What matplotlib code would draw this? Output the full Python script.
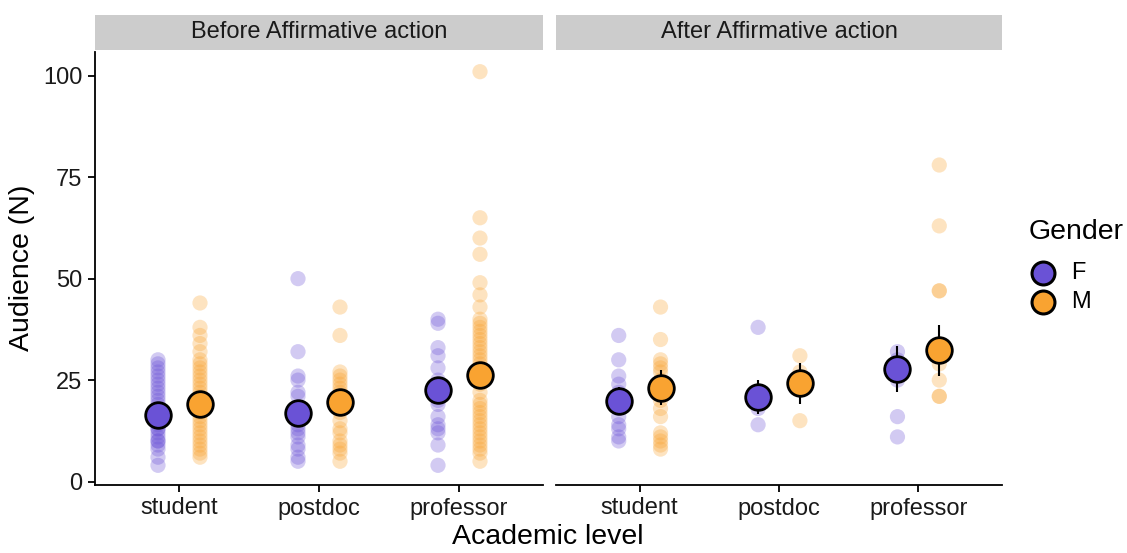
# Audiencia por nivel académico, antes y después de la acción afirmativa
import numpy as np
import matplotlib.pyplot as plt
from matplotlib.patches import Rectangle
from matplotlib.lines import Line2D

plt.rcParams['font.family'] = ['Liberation Sans', 'DejaVu Sans']

# Categorías
levels = ['student', 'postdoc', 'professor']
panels = ['Before Affirmative action', 'After Affirmative action']
genders = ['F', 'M']

# Datos individuales (antes)
before_student_F = [4, 6, 8, 9, 10, 10, 11, 12, 13, 13, 14, 15, 16, 16, 17, 18, 19, 20, 21, 22, 23, 24, 25, 26, 27, 28, 29, 30]
before_student_M = [6, 7, 8, 9, 10, 11, 12, 13, 14, 15, 16, 17, 18, 19, 20, 21, 22, 23, 24, 25, 26, 27, 28, 29, 30, 32, 34, 36, 38, 44]
before_postdoc_F = [5, 6, 8, 9, 11, 12, 13, 14, 16, 18, 21, 22, 25, 26, 32, 50]
before_postdoc_M = [5, 7, 8, 9, 10, 12, 13, 15, 17, 18, 19, 20, 21, 22, 23, 24, 25, 26, 27, 36, 43]
before_professor_F = [4, 9, 12, 13, 14, 16, 19, 20, 22, 25, 28, 31, 33, 39, 40]
before_professor_M = [5, 7, 8, 9, 10, 11, 12, 13, 14, 15, 16, 17, 18, 19, 20, 22, 24, 25, 26, 27, 28, 29, 30,
                      31, 32, 33, 34, 35, 36, 37, 38, 39, 40, 43, 46, 49, 56, 60, 65, 101]

# Datos individuales (después)
after_student_F = [10, 11, 13, 14, 16, 18, 20, 22, 24, 26, 30, 36]
after_student_M = [8, 9, 10, 11, 12, 16, 18, 20, 22, 25, 27, 28, 29, 30, 35, 43]
after_postdoc_F = [14, 18, 22, 38]
after_postdoc_M = [15, 27, 31]
after_professor_F = [11, 16, 25, 30, 32]
after_professor_M = [21, 21, 25, 29, 47, 47, 63, 78]

# Medias y errores estándar
before_mean_F = [16.3, 16.8, 22.5]
before_mean_M = [19.0, 19.7, 26.2]
after_mean_F = [19.9, 20.8, 27.7]
after_mean_M = [23.1, 24.2, 32.4]
before_se_F = [1.0, 2.5, 3.2]
before_se_M = [1.2, 2.0, 3.0]
after_se_F = [3.5, 4.2, 5.6]
after_se_M = [4.3, 5.0, 6.3]

colors = {'F': '#6A52D6', 'M': '#F9A331'}
dodge = {'F': -0.15, 'M': 0.15}

raw = [
    {'F': [before_student_F, before_postdoc_F, before_professor_F],
     'M': [before_student_M, before_postdoc_M, before_professor_M]},
    {'F': [after_student_F, after_postdoc_F, after_professor_F],
     'M': [after_student_M, after_postdoc_M, after_professor_M]},
]
means = [{'F': before_mean_F, 'M': before_mean_M}, {'F': after_mean_F, 'M': after_mean_M}]
ses = [{'F': before_se_F, 'M': before_se_M}, {'F': after_se_F, 'M': after_se_M}]

W, H = 1127, 553
fig = plt.figure(figsize=(W / 100, H / 100), dpi=100)

ax_pos = [(95, 448), (556, 446)]
axes = []
for p in range(2):
    x0, w = ax_pos[p]
    ax = fig.add_axes([x0 / W, 68 / H, w / W, 433 / H])
    axes.append(ax)

    # Franja del título del panel
    fig.add_artist(Rectangle((x0 / W, 1 - 50 / H), w / W, 35 / H, transform=fig.transFigure,
                             facecolor='#CCCCCC', edgecolor='none'))
    fig.text((x0 + w / 2) / W, 1 - 32.5 / H, panels[p], ha='center', va='center',
             fontsize=17, color='#1a1a1a')

    xs = np.arange(1, len(levels) + 1)
    for g in genders:
        # Puntos individuales
        for i, vals in enumerate(raw[p][g]):
            ax.scatter(np.full(len(vals), xs[i] + dodge[g]), vals, s=120, color=colors[g],
                       alpha=0.3, edgecolors='none', zorder=2)
        # Media +/- error estándar
        ax.errorbar(xs + dodge[g], means[p][g], yerr=ses[p][g], fmt='none', ecolor='black',
                    elinewidth=1.5, capsize=0, zorder=3)
        ax.scatter(xs + dodge[g], means[p][g], s=340, color=colors[g], edgecolors='black',
                   linewidths=2, zorder=4)

    ax.set_xlim(0.4, 3.6)
    ax.set_ylim(-0.85, 105.85)
    ax.set_xticks(xs)
    ax.set_xticklabels(levels)
    ax.set_yticks([0, 25, 50, 75, 100])
    for side in ['top', 'right']:
        ax.spines[side].set_visible(False)
    for side in ['left', 'bottom']:
        ax.spines[side].set_linewidth(1.3)
    ax.tick_params(axis='both', labelsize=17, length=5, width=1.3, colors='black',
                   labelcolor='#1a1a1a', pad=4)

# El panel derecho no tiene eje y
axes[1].spines['left'].set_visible(False)
axes[1].tick_params(axis='y', left=False, labelleft=False)

fig.text(22 / W, 1 - 268 / H, 'Audience (N)', rotation=90, ha='center', va='center', fontsize=20.5)
fig.text(548 / W, 1 - 537 / H, 'Academic level', ha='center', va='center', fontsize=20.5)

# Leyenda dibujada a mano
fig.text(1029 / W, 1 - 232 / H, 'Gender', ha='left', va='center', fontsize=20.5)
legend_y = [273, 302]
for g, yy in zip(genders, legend_y):
    fig.add_artist(Line2D([1043 / W], [1 - yy / H], transform=fig.transFigure, linestyle='none',
                          marker='o', markersize=16.5, markerfacecolor=colors[g],
                          markeredgecolor='black', markeredgewidth=2.2))
    fig.text(1071 / W, 1 - yy / H, g, ha='left', va='center', fontsize=17)

fig.savefig('out.png', dpi=100)
